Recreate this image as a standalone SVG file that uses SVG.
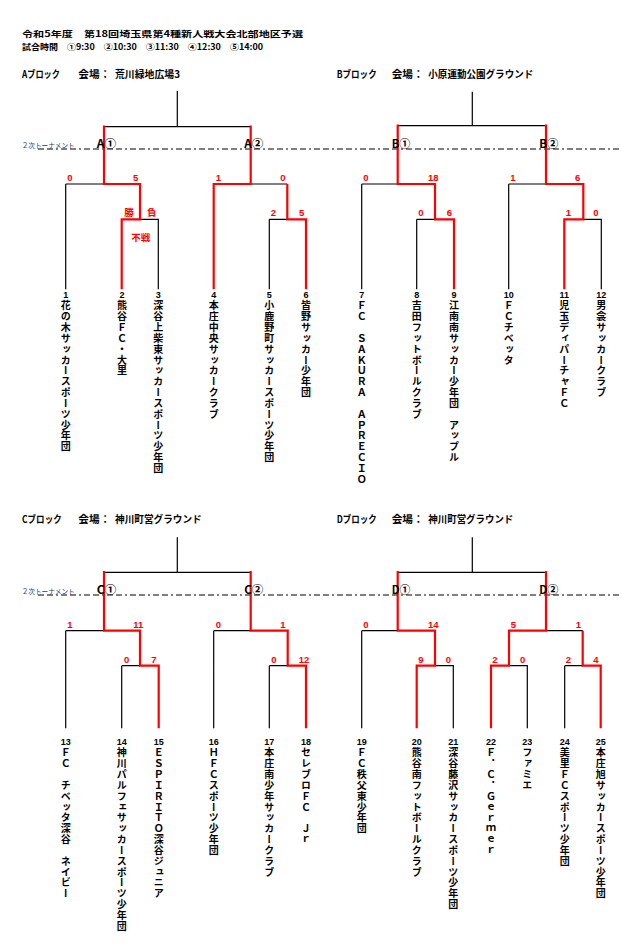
<svg xmlns="http://www.w3.org/2000/svg" width="622" height="943" viewBox="0 0 622 943">
<style>
.bg{fill:#ffffff}
.hd{font-family:"Noto Sans CJK JP","Liberation Sans",sans-serif;font-weight:bold;font-size:8.5px;fill:#000}
.tt{font-family:"Noto Sans CJK JP","Liberation Sans",sans-serif;font-weight:bold;font-size:10px;fill:#000}
.lb{font-family:"Noto Sans CJK JP","Liberation Sans",sans-serif;font-weight:bold;font-size:11px;fill:#000}
.nt{font-family:"Noto Sans CJK JP",sans-serif;font-size:7px;fill:#1F3A6E}
.sc{font-family:"Liberation Sans",Arial,sans-serif;font-weight:bold;font-size:9.5px;fill:#FF0000;text-anchor:middle}
.sj{font-family:"Noto Sans CJK JP",sans-serif;font-weight:bold;font-size:9.5px;fill:#FF0000;text-anchor:middle}
.num{font-family:"Liberation Sans",Arial,sans-serif;font-weight:bold;font-size:9px;fill:#000;text-anchor:middle}
.vt{font-family:"Noto Sans CJK JP",sans-serif;font-weight:bold;font-size:10px;letter-spacing:0.83px;fill:#000;writing-mode:vertical-rl}
.bk{fill:none;stroke:#000;stroke-width:1.2}
.rd{fill:none;stroke:#FF0000;stroke-width:2.2;stroke-linejoin:miter}
.ds{fill:none;stroke:#000;stroke-width:1;stroke-dasharray:6,3,6,3,2,3}
</style>
<rect class="bg" x="0" y="0" width="622" height="943"/>

<g id="header">
<text class="hd" x="22" y="37.2" textLength="281" lengthAdjust="spacingAndGlyphs">令和5年度　第18回埼玉県第4種新人戦大会北部地区予選</text>
<text class="hd" x="22" y="49.6" textLength="241" lengthAdjust="spacingAndGlyphs">試合時間　①9:30　②10:30　③11:30　④12:30　⑤14:00</text>
</g>

<g id="block-titles">
<text class="tt" x="22" y="77.5" textLength="38" lengthAdjust="spacingAndGlyphs">Aブロック</text>
<text class="tt" x="78.3" y="77.5" textLength="32" lengthAdjust="spacingAndGlyphs">会場：</text>
<text class="tt" x="115" y="77.5" textLength="65" lengthAdjust="spacingAndGlyphs">荒川緑地広場3</text>
<text class="tt" x="336.7" y="77.5" textLength="40" lengthAdjust="spacingAndGlyphs">Bブロック</text>
<text class="tt" x="391.7" y="77.5" textLength="32" lengthAdjust="spacingAndGlyphs">会場：</text>
<text class="tt" x="428.3" y="77.5" textLength="105" lengthAdjust="spacingAndGlyphs">小原運動公園グラウンド</text>
<text class="tt" x="22" y="523" textLength="39.7" lengthAdjust="spacingAndGlyphs">Cブロック</text>
<text class="tt" x="78.3" y="523" textLength="32" lengthAdjust="spacingAndGlyphs">会場：</text>
<text class="tt" x="115" y="523" textLength="86.7" lengthAdjust="spacingAndGlyphs">神川町営グラウンド</text>
<text class="tt" x="336.7" y="523" textLength="40" lengthAdjust="spacingAndGlyphs">Dブロック</text>
<text class="tt" x="391.7" y="523" textLength="32" lengthAdjust="spacingAndGlyphs">会場：</text>
<text class="tt" x="428.3" y="523" textLength="85" lengthAdjust="spacingAndGlyphs">神川町営グラウンド</text>
</g>

<g id="second-round-lines">
<line class="ds" x1="38" y1="149" x2="622" y2="149"/>
<line class="ds" x1="38" y1="595" x2="622" y2="595"/>
<text class="nt" x="21.7" y="147.5" textLength="53" lengthAdjust="spacingAndGlyphs">２次トーナメント</text>
<text class="nt" x="21.7" y="593.5" textLength="53" lengthAdjust="spacingAndGlyphs">２次トーナメント</text>
</g>

<g id="connectors">
<!-- Block A -->
<path class="bk" d="M177.3,91 V126.7 M104,126.7 H250.7 M65.7,184 H104 M65.7,184 V289.3 M140,219.3 H158.3 V289.3 M250.7,184 H287.3 M269.3,219.3 H287.3 M269.3,219.3 V289.3"/>
<path class="rd" d="M104,125.4 V184 H140 V219.3 H121.7 V289.3"/>
<path class="rd" d="M250.7,125.4 V184 H213.7 V289.3"/>
<path class="rd" d="M287.3,184 V219.3 H306 V289.3"/>
<!-- Block B -->
<path class="bk" d="M472.3,91.7 V125.7 M397.7,125.7 H546 M361.7,184 H397.7 M361.7,184 V289.3 M416.7,219.3 H435 M416.7,219.3 V289.3 M508.7,184 H546 M508.7,184 V289.3 M583.3,219.3 H601.3 V289.3"/>
<path class="rd" d="M397.7,124.6 V184 H435 V219.3 H454 V289.3"/>
<path class="rd" d="M546,124.6 V184 H583.3 V219.3 H564.3 V289.3"/>
<!-- Block C -->
<path class="bk" d="M177.3,537.3 V572.3 M104,572.3 H250.7 M65.7,630.7 H104 M65.7,630.7 V728.3 M121.7,665.7 H140 M121.7,665.7 V728.3 M213.7,630.7 H250.7 M213.7,630.7 V728.3 M269.3,665.7 H287.7 M269.3,665.7 V728.3"/>
<path class="rd" d="M104,571 V630.7 H140 V665.7 H158.7 V728.3"/>
<path class="rd" d="M250.7,571 V630.7 H287.7 V665.7 H306 V728.3"/>
<!-- Block D -->
<path class="bk" d="M472.3,537.3 V572.3 M397.7,572.3 H546 M361.7,630.7 H397.7 M361.7,630.7 V728.3 M435,665.7 H453.3 V728.3 M546,630.7 H582.7 M509,665.7 H527.3 V728.3 M564.7,665.7 H582.7 M564.7,665.7 V728.3"/>
<path class="rd" d="M397.7,571 V630.7 H435 V665.7 H416.7 V728.3"/>
<path class="rd" d="M546,571 V630.7 H509 V665.7 H491 V728.3"/>
<path class="rd" d="M582.7,630.7 V665.7 H600.7 V728.3"/>
</g>

<g id="match-labels">
<text class="lb" x="96.7" y="148" textLength="19.5" lengthAdjust="spacingAndGlyphs">A①</text>
<text class="lb" x="244.3" y="148" textLength="19" lengthAdjust="spacingAndGlyphs">A②</text>
<text class="lb" x="391.7" y="148" textLength="18.5" lengthAdjust="spacingAndGlyphs">B①</text>
<text class="lb" x="539.3" y="148" textLength="19" lengthAdjust="spacingAndGlyphs">B②</text>
<text class="lb" x="96.7" y="594" textLength="19.5" lengthAdjust="spacingAndGlyphs">C①</text>
<text class="lb" x="244.3" y="594" textLength="19" lengthAdjust="spacingAndGlyphs">C②</text>
<text class="lb" x="391.7" y="594" textLength="18.5" lengthAdjust="spacingAndGlyphs">D①</text>
<text class="lb" x="539.3" y="594" textLength="19" lengthAdjust="spacingAndGlyphs">D②</text>
</g>

<g id="scores">
<text class="sc" x="70" y="181">0</text>
<text class="sc" x="135.7" y="181">5</text>
<text class="sc" x="218.3" y="181">1</text>
<text class="sc" x="283" y="181">0</text>
<text class="sj" x="129" y="216">勝</text>
<text class="sj" x="151.7" y="216">負</text>
<text class="sj" x="140.7" y="240.5">不戦</text>
<text class="sc" x="273.3" y="216">2</text>
<text class="sc" x="301.7" y="216">5</text>
<text class="sc" x="366" y="181">0</text>
<text class="sc" x="433.3" y="181">18</text>
<text class="sc" x="513" y="181">1</text>
<text class="sc" x="577.7" y="181">6</text>
<text class="sc" x="421" y="216">0</text>
<text class="sc" x="449.3" y="216">6</text>
<text class="sc" x="568.3" y="216">1</text>
<text class="sc" x="596" y="216">0</text>
<text class="sc" x="70" y="627.5">1</text>
<text class="sc" x="138.3" y="627.5">11</text>
<text class="sc" x="218.3" y="627.5">0</text>
<text class="sc" x="283" y="627.5">1</text>
<text class="sc" x="126.7" y="662.7">0</text>
<text class="sc" x="154" y="662.7">7</text>
<text class="sc" x="274" y="662.7">0</text>
<text class="sc" x="304" y="662.7">12</text>
<text class="sc" x="366" y="627.5">0</text>
<text class="sc" x="433.3" y="627.5">14</text>
<text class="sc" x="513.3" y="627.5">5</text>
<text class="sc" x="578.3" y="627.5">1</text>
<text class="sc" x="421" y="662.7">9</text>
<text class="sc" x="448.3" y="662.7">0</text>
<text class="sc" x="495" y="662.7">2</text>
<text class="sc" x="522.7" y="662.7">0</text>
<text class="sc" x="568.3" y="662.7">2</text>
<text class="sc" x="596" y="662.7">4</text>
</g>

<g id="team-1"><text class="num" x="65.7" y="297.6">1</text><text class="vt" x="65.7" y="300.7">花の木サッカースポーツ少年団</text></g>
<g id="team-2"><text class="num" x="122" y="297.6">2</text><text class="vt" x="122" y="300.7">熊谷ＦＣ・大里</text></g>
<g id="team-3"><text class="num" x="158.3" y="297.6">3</text><text class="vt" x="158.3" y="300.7">深谷上柴東サッカースポーツ少年団</text></g>
<g id="team-4"><text class="num" x="213.7" y="297.6">4</text><text class="vt" x="213.7" y="300.7">本庄中央サッカークラブ</text></g>
<g id="team-5"><text class="num" x="269.3" y="297.6">5</text><text class="vt" x="269.3" y="300.7">小鹿野町サッカースポーツ少年団</text></g>
<g id="team-6"><text class="num" x="306" y="297.6">6</text><text class="vt" x="306" y="300.7">皆野サッカー少年団</text></g>
<g id="team-7"><text class="num" x="361.7" y="297.6">7</text><text class="vt" x="361.7" y="300.7">ＦＣ　ＳＡＫＵＲＡ　ＡＰＲＥＣＩＯ</text></g>
<g id="team-8"><text class="num" x="416.7" y="297.6">8</text><text class="vt" x="416.7" y="300.7">吉田フットボールクラブ</text></g>
<g id="team-9"><text class="num" x="454" y="297.6">9</text><text class="vt" x="454" y="300.7">江南南サッカー少年団　アップル</text></g>
<g id="team-10"><text class="num" x="508.7" y="297.6">10</text><text class="vt" x="508.7" y="300.7">ＦＣチベッタ</text></g>
<g id="team-11"><text class="num" x="564.3" y="297.6">11</text><text class="vt" x="564.3" y="300.7">児玉ディパーチャＦＣ</text></g>
<g id="team-12"><text class="num" x="601.3" y="297.6">12</text><text class="vt" x="601.3" y="300.7">男衾サッカークラブ</text></g>

<g id="team-13"><text class="num" x="65.7" y="745">13</text><text class="vt" x="65.7" y="747.7">ＦＣ　チベッタ深谷　ネイビー</text></g>
<g id="team-14"><text class="num" x="121.7" y="745">14</text><text class="vt" x="121.7" y="747.7">神川パルフェサッカースポーツ少年団</text></g>
<g id="team-15"><text class="num" x="158.7" y="745">15</text><text class="vt" x="158.7" y="747.7">ＥＳＰＩＲＩＴＯ深谷ジュニア</text></g>
<g id="team-16"><text class="num" x="213.7" y="745">16</text><text class="vt" x="213.7" y="747.7">ＨＦＣスポーツ少年団</text></g>
<g id="team-17"><text class="num" x="269.3" y="745">17</text><text class="vt" x="269.3" y="747.7">本庄南少年サッカークラブ</text></g>
<g id="team-18"><text class="num" x="306" y="745">18</text><text class="vt" x="306" y="747.7">セレブロＦＣ　Ｊｒ</text></g>
<g id="team-19"><text class="num" x="361.7" y="745">19</text><text class="vt" x="361.7" y="747.7">ＦＣ秩父東少年団</text></g>
<g id="team-20"><text class="num" x="416.7" y="745">20</text><text class="vt" x="416.7" y="747.7">熊谷南フットボールクラブ</text></g>
<g id="team-21"><text class="num" x="453.3" y="745">21</text><text class="vt" x="453.3" y="747.7">深谷藤沢サッカースポーツ少年団</text></g>
<g id="team-22"><text class="num" x="491" y="745">22</text><text class="vt" x="491" y="747.7">Ｆ．Ｃ．Ｇｅｒｍｅｒ</text></g>
<g id="team-23"><text class="num" x="527.3" y="745">23</text><text class="vt" x="527.3" y="747.7">ファミエ</text></g>
<g id="team-24"><text class="num" x="564.7" y="745">24</text><text class="vt" x="564.7" y="747.7">美里ＦＣスポーツ少年団</text></g>
<g id="team-25"><text class="num" x="600.7" y="745">25</text><text class="vt" x="600.7" y="747.7">本庄旭サッカースポーツ少年団</text></g>
</svg>
